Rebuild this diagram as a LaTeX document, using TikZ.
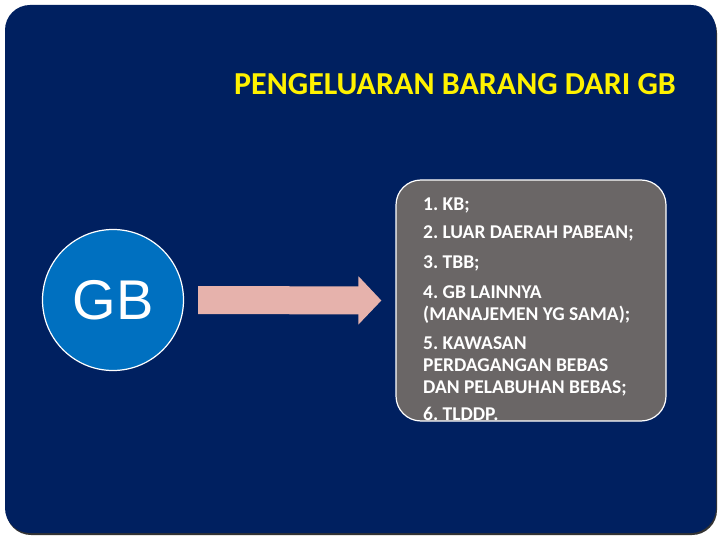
\documentclass[tikz,border=0pt]{standalone}
\usepackage{fontspec}
\setmainfont{Carlito}
\newfontfamily\arialfont{Liberation Sans}
\usetikzlibrary{arrows.meta}
\definecolor{slidebg}{HTML}{002060}
\definecolor{gbblue}{HTML}{0070C0}
\definecolor{boxgray}{HTML}{6A6666}
\definecolor{arrowpink}{HTML}{E6B2AC}
\tikzset{
  slide/.style = {fill = slidebg, rounded corners = 25pt},
  gbcircle/.style = {circle, fill = gbblue, draw = white, line width = 1.2pt, minimum size = 141pt, inner sep = 0pt},
  listbox/.style = {rectangle, fill = boxgray, draw = white, line width = 1.2pt, rounded corners = 25pt, minimum width = 270pt, minimum height = 241pt, inner sep = 0pt},
  bigarrow/.style = {draw = arrowpink, line width = 28pt, -{Triangle[length = 23pt, width = 47pt]}},
}
\frenchspacing
\begin{document}
\begin{tikzpicture}[x = 1pt, y = -1pt]
	\useasboundingbox (0, 0) rectangle (720, 540);
	\fill[black!80, rounded corners = 25pt] (6, 8) rectangle (717, 535);
	\fill[slide] (5, 5) rectangle (716, 533);
	\node[anchor = base west, inner sep = 0pt, text = yellow, font = \fontsize{32}{36}\selectfont\bfseries] (title) at (234, 95) {PENGELUARAN BARANG DARI GB};
	\node[gbcircle] (gb) at (113, 300) {};
	\node[text = white, font = \arialfont\fontsize{56}{60}\selectfont] (gblabel) at (gb.center) {GB};
	\node[listbox] (list) at (531, 300.5) {};
	\node[anchor = north west, align = left, text = white, inner sep = 0pt, font = \fontsize{19.5}{22}\selectfont\bfseries] (items) at (423, 197.5) {1. KB;\\[6pt]
		2. LUAR DAERAH PABEAN;\\[8pt]
		3. TBB;\\[8pt]
		4. GB LAINNYA\\
		(MANAJEMEN YG SAMA);\\[7pt]
		5. KAWASAN\\
		PERDAGANGAN BEBAS\\
		DAN PELABUHAN BEBAS;\\[5pt]
		6. TLDDP.};
	\draw[bigarrow] ([xshift = 14pt]gb.east) -- ([xshift = -14pt]list.west);
\end{tikzpicture}
\end{document}
